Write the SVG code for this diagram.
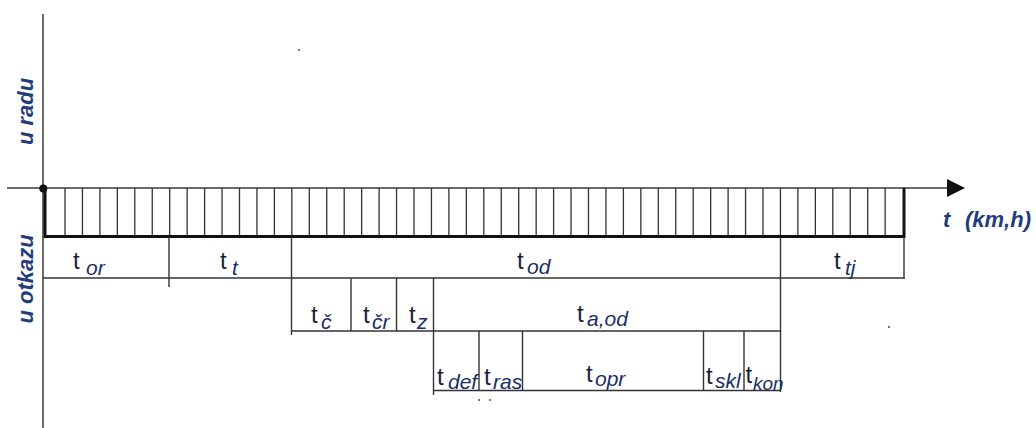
<svg xmlns="http://www.w3.org/2000/svg" width="1036" height="428" viewBox="0 0 1036 428">
<style>
.ax{stroke:#3a3a3a;stroke-width:1.5;fill:none}
.thin{stroke:#333;stroke-width:1.4;fill:none}
.thick{stroke:#111;stroke-width:3;fill:none}
.hatch{stroke:#333;stroke-width:1.3;fill:none}
.lbl{font-family:"Liberation Sans",Arial,sans-serif;font-size:24px;fill:#1c1c3c}
.sub{font-style:italic;font-size:21px;fill:#1a2f66}
.axl{font-family:"Liberation Sans",Arial,sans-serif;font-size:22px;font-weight:bold;font-style:italic;fill:#1f3d7a}
.dot{fill:#777}
</style>
<rect width="1036" height="428" fill="#fff"/>
<g id="axes">
<line class="ax" x1="43" y1="14" x2="43" y2="428"/>
<line class="ax" x1="7" y1="188" x2="948" y2="188"/>
<polygon points="947,179 965,188 947,197" fill="#111"/>
<circle cx="43.3" cy="188.5" r="4" fill="#111"/>
</g>
<g id="axis-labels">
<text class="axl" text-anchor="middle" transform="translate(33,111.5) rotate(-90)">u radu</text>
<text class="axl" text-anchor="middle" transform="translate(33,279) rotate(-90)">u otkazu</text>
<text class="axl" y="226.5"><tspan x="943">t</tspan><tspan x="965">(km,h)</tspan></text>
</g>
<g id="hatched-bar">
<path class="hatch" d="M65 188V236M82.45 188V236M99.9 188V236M117.35 188V236M134.8 188V236M152.25 188V236M169.7 188V236M187.15 188V236M204.6 188V236M222.05 188V236M239.5 188V236M256.95 188V236M274.4 188V236M291.85 188V236M309.3 188V236M326.75 188V236M344.2 188V236M361.65 188V236M379.1 188V236M396.55 188V236M414 188V236M431.45 188V236M448.9 188V236M466.35 188V236M483.8 188V236M501.25 188V236M518.7 188V236M536.15 188V236M553.6 188V236M571.05 188V236M588.5 188V236M605.95 188V236M623.4 188V236M640.85 188V236M658.3 188V236M675.75 188V236M693.2 188V236M710.65 188V236M728.1 188V236M745.55 188V236M763 188V236M780.45 188V236M797.9 188V236M815.35 188V236M832.8 188V236M850.25 188V236M867.7 188V236M885.15 188V236"/>
<path class="thick" d="M45 188V236.5H904V188"/>
</g>
<g id="connectors">
<line class="thin" x1="43" y1="278" x2="905" y2="278"/>
<line class="thin" x1="169" y1="237" x2="169" y2="287"/>
<line class="thin" x1="291.5" y1="237" x2="291.5" y2="335"/>
<line class="thin" x1="780.5" y1="237" x2="780.5" y2="392"/>
<line class="thin" x1="904" y1="237" x2="904" y2="278"/>
<line class="thin" x1="291" y1="331" x2="781" y2="331"/>
<line class="thin" x1="351" y1="278" x2="351" y2="331"/>
<line class="thin" x1="396.5" y1="278" x2="396.5" y2="331"/>
<line class="thin" x1="433.5" y1="278" x2="433.5" y2="395"/>
<line class="thin" x1="433" y1="390.5" x2="781" y2="390.5"/>
<line class="thin" x1="479" y1="331" x2="479" y2="390.5"/>
<line class="thin" x1="522.5" y1="331" x2="522.5" y2="390.5"/>
<line class="thin" x1="703.5" y1="331" x2="703.5" y2="390.5"/>
<line class="thin" x1="744" y1="331" x2="744" y2="390.5"/>
</g>
<g id="n-tor"><text class="lbl"><tspan x="73" y="269">t</tspan><tspan class="sub" x="86" y="275">or</tspan></text></g>
<g id="n-tt"><text class="lbl"><tspan x="220" y="269">t</tspan><tspan class="sub" x="232" y="275">t</tspan></text></g>
<g id="n-tod"><text class="lbl"><tspan x="517" y="269">t</tspan><tspan class="sub" x="527" y="274">od</tspan></text></g>
<g id="n-ttj"><text class="lbl"><tspan x="834" y="269">t</tspan><tspan class="sub" x="845" y="275">tj</tspan></text></g>
<g id="n-tc"><text class="lbl"><tspan x="311" y="323">t</tspan><tspan class="sub" x="321" y="329">č</tspan></text></g>
<g id="n-tcr"><text class="lbl"><tspan x="363" y="323">t</tspan><tspan class="sub" x="372" y="329">čr</tspan></text></g>
<g id="n-tz"><text class="lbl"><tspan x="409" y="323">t</tspan><tspan class="sub" x="417" y="329">z</tspan></text></g>
<g id="n-taod"><text class="lbl"><tspan x="577" y="322">t</tspan><tspan class="sub" x="587" y="326">a,od</tspan></text></g>
<g id="n-tdef"><text class="lbl"><tspan x="437" y="385">t</tspan><tspan class="sub" x="448" y="389">def</tspan></text></g>
<g id="n-tras"><text class="lbl"><tspan x="484" y="385">t</tspan><tspan class="sub" x="493" y="389">ras</tspan></text></g>
<g id="n-topr"><text class="lbl"><tspan x="586" y="382">t</tspan><tspan class="sub" x="595" y="386">opr</tspan></text></g>
<g id="n-tskl"><text class="lbl"><tspan x="706" y="384">t</tspan><tspan class="sub" x="715" y="388">skl</tspan></text></g>
<g id="n-tkon"><text class="lbl"><tspan x="745.5" y="383">t</tspan><tspan class="sub" x="753" y="390" style="font-size:19px">kon</tspan></text></g>
<g id="specks">
<rect class="dot" x="298" y="49" width="2" height="2"/>
<rect class="dot" x="888" y="326" width="2" height="2"/>
<rect class="dot" x="478" y="399" width="2" height="2"/>
<rect class="dot" x="489" y="399" width="2" height="2"/>
</g>
</svg>
